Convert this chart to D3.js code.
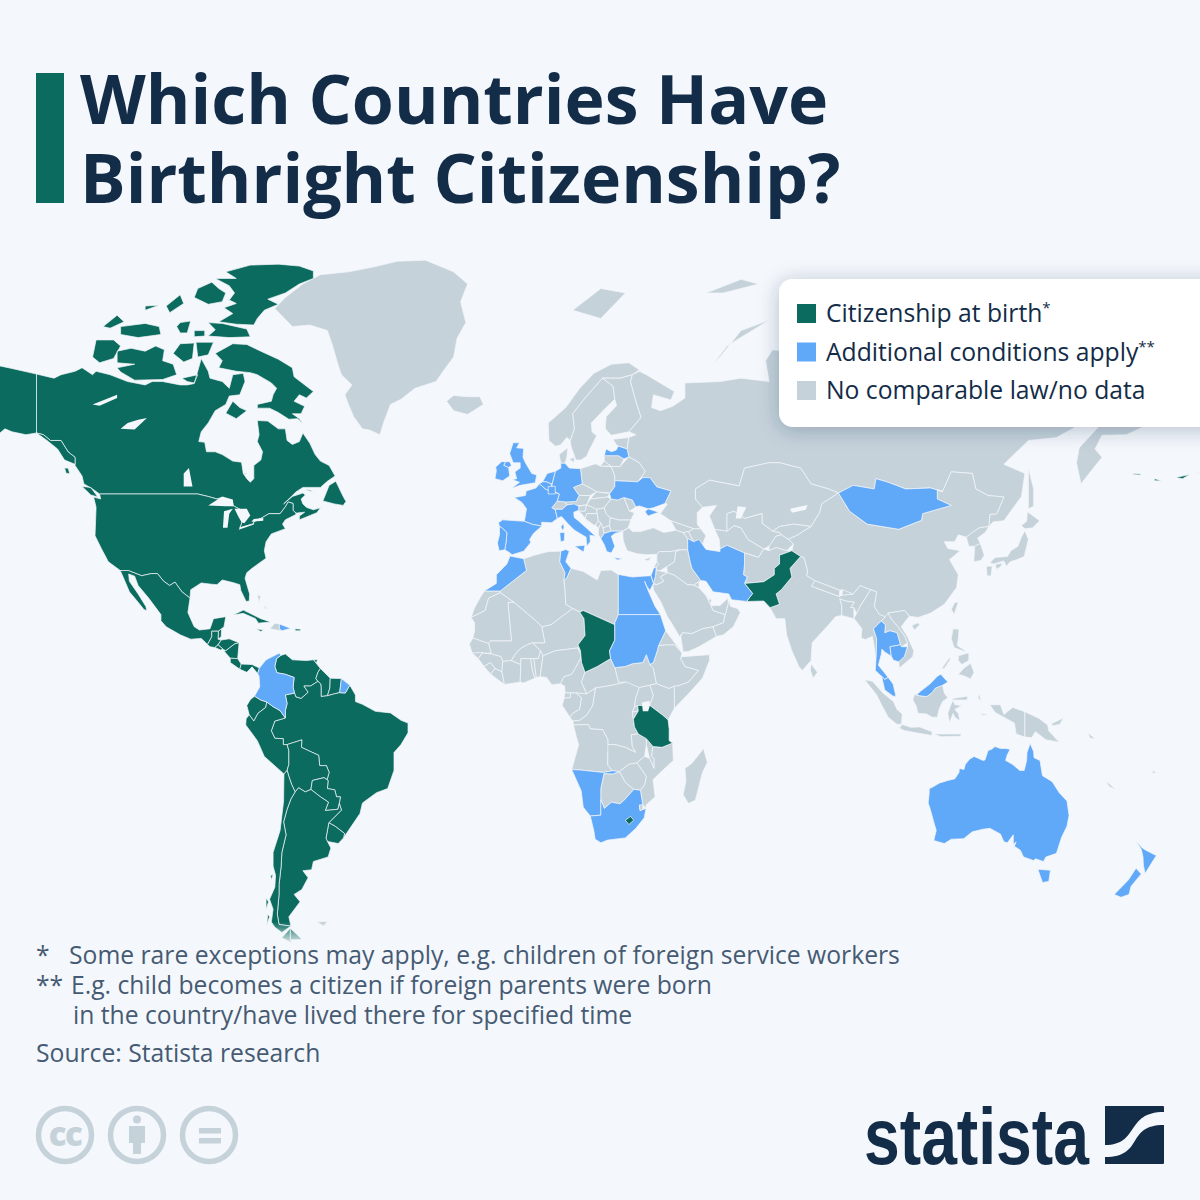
<!DOCTYPE html>
<html>
<head>
<meta charset="utf-8">
<script src="https://cdn.jsdelivr.net/npm/d3@7"></script>
<style>
  html, body { margin: 0; padding: 0; background: #f4f7fb; }
  svg { display: block; font-family: "Open Sans", sans-serif; }
</style>
</head>
<body>
<script>
// Country outlines: each ring is a flat lon,lat list
const citizenshipAtBirth = [
  ["Canada", [
    [-141,69.6,-136,69,-134,69.5,-130,70,-128,70.5,-125,69.5,-124,70,-120,69.5,-115,68.5,-110,68,-108,68.5,-105,68.5,-100,68,-98,68,-96,68.2,-95,70,-94,71.8,-92,70,-91.5,69,-88,68.5,-86,67.5,-85,69.5,-82,69.7,-81.5,68.5,-83,66.5,-86,66.3,-87,65,-90,64,-92,62,-94,60.5,-94.7,58.8,-93,58.7,-92.5,57,-90,57,-88,56.5,-85,55.3,-82.5,55.1,-82,53,-81,52,-80,51.3,-79,52,-79,54.5,-77,55.5,-76.5,57,-78,58.8,-77.5,60,-78,62.4,-75,62.3,-72,61,-70,61,-69.5,59,-68,58.3,-66,58.8,-65,60.3,-63,58.5,-61.5,56.5,-60,55.3,-57.5,54.5,-55.8,52.5,-58,51.5,-60,50.3,-65,50.3,-67,49.4,-69,48,-70.5,47,-68,48.5,-65,49.2,-64.3,48.8,-65.5,48,-65,47,-64,46.3,-62,45.8,-60,46.2,-61,45.2,-64,44.3,-66,43.7,-66,44.5,-64.5,45.3,-66,45.2,-67,45.1,-67.8,45.7,-67.8,47.1,-69.2,47.4,-70,46.4,-71.5,45,-74.7,45,-76.5,44.2,-79,43.3,-79,42.9,-83,42,-82.5,43,-82,45.5,-84.5,46.5,-88.5,48.2,-89.5,48,-92,48.5,-95,49,-123,49,-125,50,-127.5,51,-128,52.5,-130,54.5,-130,56,-132,57,-134,59,-137,59,-139,60,-141,60.3],
    [-123.5,48.4,-125.5,48.8,-128,50.5,-125.5,50.3],
    [-132,54,-131.5,53,-132.5,53,-133,54],
    [-59.3,47.6,-57.5,50.7,-55.6,51.5,-53.5,48.5,-52.7,47.5,-53.5,46.7,-56,47],
    [-62,49.4,-64.5,49.9,-63,49.8],
    [-65,61.8,-66.5,62.7,-69,62.6,-72,63.7,-74.5,64.4,-78,64.4,-78,65,-74,65.5,-73.5,66.5,-72.5,67.5,-74,68.3,-78,69.5,-80,69.8,-84,70,-89,70.5,-88,71.5,-90,72.5,-85,73.8,-81,73.7,-77,72.8,-72,71.7,-68,70.5,-67.5,69.2,-62,67,-64,66,-66,66.5,-67.5,65.5,-64.5,64.7,-65.5,63.5,-68,63.5,-66,62.7],
    [-117,69.9,-113,68.7,-105,68.8,-101,69.5,-102,71,-105,71.5,-104.5,73,-107,73.5,-110,72.8,-114,73.2,-118,72.8,-118,71.2,-113,71,-118,70.5],
    [-125,72,-123,71.2,-119,71.8,-117,73.5,-119,74.3,-124,74.3],
    [-87,63.6,-85,65.5,-83,64.5,-81,64,-84,62.7],
    [-100,73.8,-96,73.9,-96.5,71.8,-99,71.3,-102,72.5],
    [-95.5,74,-90.5,74,-92,72.3,-95,72],
    [-99.5,69,-95,69.5,-96,68.3,-98,68.5],
    [-92,76.5,-88,76.4,-81,75.7,-80,74.7,-86,74.6,-92,74.8,-90,75.6],
    [-96,75.5,-93,75.5,-93,74.8,-96,74.7],
    [-62,82.4,-66,82.9,-72,83.1,-80,83,-87,82.3,-84,81.6,-90,81.6,-86,80.8,-84.5,80,-86,79.2,-84,78.8,-87.5,78.3,-85,77.6,-89,76.6,-84,76.3,-79,76.2,-78,77,-76,78,-72,78.7,-75,79.3,-70,80,-66,81,-62,81.6],
    [-91,81.2,-95,80.5,-96,79.5,-92,78.7,-88,79,-87,80,-89,80.5],
    [-117,76,-110,76.4,-106,76,-105.5,75,-112,74.6,-117,75],
    [-100,76.5,-97,76.7,-98,75.2,-100,75.2,-101,76],
    [-122,76,-118,77.4,-116,76.6,-120,75.8],
    [-104,78.5,-100,79.8,-99,78.8,-103,77.7],
    [-110,78,-106,78.6,-110,78.5],
    [-82,53,-81,53.1,-81.5,52.9]
  ]],
  ["Alaska", [
    [-141,69.6,-148,70.4,-156.5,71.3,-162,70,-166,68.4,-162,67,-164,66.5,-168,65.6,-161,64.5,-165,63,-165,61,-162,58.7,-158,58.5,-162,55.5,-165,54.5,-158,56.5,-154,58,-152,60,-150,61,-148,60.5,-144,60,-141,60.3],
    [-141,60.3,-139,60,-137,59,-134,59,-132,57,-130,56,-130,54.7,-133,55.5,-135,57.5,-138,59],
    [172,53,174,52.9,174,52.7,172,52.8],[178,52,180,51.6,178,51.6],[184,52.2,188,52.8,186,52],[190,53,194,54,191,53.2],
    [-155.5,20,-155,19.7,-155.6,19,-156,19.6]
  ]],
  ["United States", [
    [-123,49,-95,49,-92,48.5,-89.5,48,-88.5,48.2,-84.5,46.5,-82,45.5,-82.5,43,-83,42,-79,42.9,-79,43.3,-76.5,44.2,-74.7,45,-71.5,45,-70,46.4,-69.2,47.4,-67.8,47.1,-67.8,45.7,-67,45.1,-67,44.8,-70,43.7,-70.8,42.8,-70,41.8,-71.5,41.4,-74,40.7,-75.5,39,-76,37,-75.5,35.3,-77.8,34,-79.5,33,-81,32,-81.5,30.7,-80.2,27,-80.3,25.3,-81.2,25.2,-82.7,27.8,-83,29.2,-85,29.7,-88,30.3,-89.5,29.2,-91,29.3,-94,29.6,-97,28,-97.2,26,-99.5,27.5,-101.5,29.8,-103,29,-104.7,30,-106.5,31.8,-108.2,31.8,-111,31.3,-114.8,32.5,-117.1,32.5,-120.5,34.5,-122.5,37.5,-124.3,40.3,-124,46.3,-124.7,48.4,-122.7,48],
    [-67.2,18.5,-65.6,18.4,-65.7,18,-67.2,18]
  ]],
  ["Mexico", [[-117.1,32.5,-114.8,32.5,-111,31.3,-108.2,31.8,-106.5,31.8,-104.7,30,-103,29,-101.5,29.8,-99.5,27.5,-97.2,26,-97.8,22.5,-96,19,-94.5,18.2,-91.5,18.5,-90.5,21,-87,21.5,-87.5,19,-88.2,18.5,-89.1,17.9,-91,17.9,-91,16.5,-92.2,14.6,-94,16.1,-97,15.9,-100,17,-104,19,-105.5,20.5,-105.5,22,-109,26,-112,29,-113,31.2,-114.7,31.7,-114.5,30,-112,27,-109.8,24,-109.5,23,-110.3,23.2,-112,25,-114.5,27.5,-115.5,29.5]]],
  ["Belize", [[-88.2,18.5,-89.1,17.9,-89.2,15.9,-88.3,16.5]]],
  ["Guatemala", [[-92.2,14.6,-91,16.5,-91,17.9,-89.1,17.9,-89.2,15.9,-88.3,15.7,-89.2,14.5,-90.1,13.8,-91.5,14]]],
  ["Honduras", [[-89.2,14.5,-88.3,15.7,-86,16,-83.2,15,-84.5,14.7,-87,13,-87.8,13.4]]],
  ["El Salvador", [[-90.1,13.8,-89.2,14.5,-87.8,13.4,-88.5,13.2]]],
  ["Nicaragua", [[-87,13,-84.5,14.7,-83.2,15,-83.6,11,-85.7,11.1,-87.5,12.9]]],
  ["Costa Rica", [[-85.7,11.1,-83.6,11,-82.6,9.6,-83,8.3,-85.7,10]]],
  ["Panama", [[-83,8.3,-82.6,9.6,-79.5,9.5,-77.4,8.6,-77.9,7.2,-79.5,8.9,-81,7.5]]],
  ["Cuba", [[-84.9,21.9,-82,23.1,-77,21,-74.2,20.2,-77.7,19.9,-78.5,21,-82,22.3]]],
  ["Jamaica", [[-78.3,18.5,-76.3,18.2,-77,17.8]]],
  ["Trinidad", [[-61.7,10.7,-60.9,10.8,-61,10.1,-61.8,10.1]]],
  ["Venezuela", [[-71.3,11.8,-70,12.2,-68,10.7,-64,10.5,-62,10.7,-60,8.5,-60.7,7.5,-61.3,5.9,-60.7,5.2,-62.8,4,-64.7,4,-63.5,2.4,-65.5,0.8,-67,1.2,-67.4,2.2,-67.8,3.7,-67.5,6.2,-70,7,-72.4,7.4,-73,9,-72.5,11]]],
  ["Guyana", [[-60,8.5,-57.2,6,-57.3,3.5,-58,1.5,-59.8,1.3,-59.8,3.5,-59.9,4.5,-60.7,5.2,-61.3,5.9,-60.7,7.5]]],
  ["Suriname", [[-57.2,6,-54,5.9,-54.5,2.3,-56,2,-58,1.5,-57.3,3.5]]],
  ["Brazil", [[-51.6,4.2,-50,1.7,-50,0,-48,-0.7,-44.3,-2.5,-40,-2.9,-37,-4.8,-35,-5.5,-35,-8,-37,-11,-39,-13,-39,-17.5,-40.8,-22,-44,-23,-48,-25.5,-48.7,-28,-52,-32,-53.4,-33.7,-53.1,-32.7,-55.8,-31,-57.6,-30.2,-54,-27.2,-54.6,-25.6,-54.3,-24,-55.4,-24,-55.9,-22.3,-58,-22,-57.8,-20,-58.1,-19.8,-57.5,-18,-58.3,-16.3,-60.2,-16.3,-60.5,-13.7,-63,-12.7,-65.4,-11.7,-65.3,-9.8,-69.5,-11,-70.6,-11,-70.6,-9.5,-73,-9.4,-74,-7.5,-73,-5,-70,-4.2,-70,-2.3,-69.5,-0.5,-70,1.7,-67.4,2.2,-67,1.2,-65.5,0.8,-63.5,2.4,-64.7,4,-62.8,4,-60.7,5.2,-59.9,4.5,-59.8,3.5,-59.8,1.3,-58,1.5,-56,2,-54.5,2.3,-52.9,2.2]]],
  ["Ecuador", [[-78.8,1.4,-77,0.4,-75.3,-0.1,-75.6,-1.5,-77.8,-3,-79,-5,-80.3,-3.4,-81,-1,-80,0.5]]],
  ["Peru", [[-80.3,-3.4,-79,-5,-77.8,-3,-75.6,-1.5,-75.3,-0.1,-73.5,-1.3,-71.5,-2.3,-70,-4.2,-73,-5,-74,-7.5,-73,-9.4,-70.6,-9.5,-70.6,-11,-69.5,-11,-69,-12.5,-69,-16,-69.5,-17.5,-70.4,-18.4,-76,-14,-78,-10,-81.3,-6,-81.2,-4.4]]],
  ["Bolivia", [[-69.5,-11,-65.3,-9.8,-65.4,-11.7,-63,-12.7,-60.5,-13.7,-60.2,-16.3,-58.3,-16.3,-57.5,-18,-58.1,-19.8,-59,-19.3,-62.3,-20,-62.7,-22.2,-64.3,-22.8,-66.2,-21.8,-67.2,-22.8,-68.2,-21,-69,-19,-69.5,-17.5,-69,-16,-69,-12.5]]],
  ["Paraguay", [[-58.1,-19.8,-57.8,-20,-58,-22,-55.9,-22.3,-55.4,-24,-54.3,-24,-54.6,-25.6,-55,-27,-58.6,-27.3,-57.7,-25.3,-60,-24,-62.7,-22.2,-62.3,-20,-59,-19.3]]],
  ["Uruguay", [[-58.4,-33.8,-57.6,-30.2,-55.8,-31,-53.1,-32.7,-53.4,-33.7,-54.9,-35,-58,-34.5]]],
  ["Argentina", [[-66.2,-21.8,-64.3,-22.8,-62.7,-22.2,-60,-24,-57.7,-25.3,-58.6,-27.3,-55,-27,-54.6,-25.6,-54,-27.2,-57.6,-30.2,-58.4,-33.8,-58,-34.5,-57,-36,-57.8,-38,-62,-39,-62.5,-40.8,-65,-41,-63.5,-42.5,-65.3,-45,-67.5,-46,-65.8,-47.5,-69,-50.5,-68.4,-52.3,-71.8,-52,-72.3,-50,-71.8,-46,-71.8,-44,-71.2,-40,-71,-37,-69.8,-33,-70.5,-30,-69.5,-27,-68.4,-24.5,-67.2,-22.8],[-68.6,-52.7,-65.2,-54.8,-68.6,-54.9]]],
  ["Chile", [[-70.4,-18.4,-69.5,-17.5,-69,-19,-68.2,-21,-67.2,-22.8,-68.4,-24.5,-69.5,-27,-70.5,-30,-69.8,-33,-71,-37,-71.2,-40,-71.8,-44,-71.8,-46,-72.3,-50,-71.8,-52,-68.4,-52.3,-71,-53.5,-73,-52.5,-74,-51.5,-73.5,-49,-74.5,-47,-73,-44.5,-72.8,-42,-73.5,-40,-73.5,-37,-71.5,-32,-70.5,-25],[-74,-43,-73.5,-41.9,-74.2,-42],[-75.5,-49,-74.8,-47.5,-75.5,-46.8],[-75.3,-52,-74.5,-50.5,-75,-50],[-68.6,-52.7,-68.6,-54.9,-68,-55.5,-71,-54.5]]],
  ["Pakistan", [[61,29.5,66.5,29.9,69.5,31.5,69.5,33,71,34,71,36,74.5,37,77,35.7,74,33,74.5,31,71.5,28,70,27,71,24.5,68.3,23.7,66.5,25.3,61.6,25.2,63.3,27.1]]],
  ["Chad", [[14,22.6,15,23,24,19.5,24,15.7,22.5,13,22.8,11,19,9,15.5,7.5,14.5,10,14.2,13,13.5,14.5,15.5,16.8,15.2,21]]],
  ["Tanzania", [[30.5,-1,34,-1,37.7,-3.5,39.2,-4.7,39.5,-7,39.5,-10,40.5,-10.6,37.5,-11.7,34.9,-11.5,33,-9.5,30.7,-8.3,29.6,-6.5,29.3,-4.5,30.7,-2.4]]],
  ["Lesotho", [[27,-29.6,28.5,-28.7,29.4,-29.6,28,-30.6]]]
];

const additionalConditions = [
  ["Colombia", [[-77.4,8.6,-75.6,10.6,-74.8,11,-71.7,12.4,-71.3,11.8,-72.5,11,-73,9,-72.4,7.4,-70,7,-67.5,6.2,-67.8,3.7,-67.4,2.2,-70,1.7,-69.5,-0.5,-70,-2.3,-70,-4.2,-71.5,-2.3,-73.5,-1.3,-75.3,-0.1,-77,0.4,-78.8,1.4,-77.3,3.8,-77.5,6.5,-77.9,7.2]]],
  ["Dominican Republic", [[-71.7,19.7,-68.4,18.6,-71,18,-71.7,18.5]]],
  ["France", [[-1.8,43.4,-1.2,46,-2.5,47.3,-4.7,48.3,-1.5,48.7,-1.3,49.6,1.5,50.2,2.5,51,4.2,50,5.8,49.5,8.2,49,7.6,47.6,6,46.2,7,45.8,7.6,44,6,43.1,3.1,43.2,3.2,42.4,0.7,42.7],[9.4,43,9.5,42,9.2,41.4,8.6,42.2],[-54,5.9,-51.6,4.2,-52.9,2.2,-54.5,2.3]]],
  ["Spain", [[-1.8,43.4,0.7,42.7,3.2,42.4,0.8,40.8,-0.3,39.5,0,38.8,-2,36.9,-5.3,36.1,-6.3,36.7,-7.4,37.2,-7,39,-6.8,41,-8.2,42,-8.9,42.3,-9.2,43.1,-8,43.7]]],
  ["Portugal", [[-7.4,37.2,-9,37,-9.5,38.7,-8.9,40.5,-8.9,42.3,-8.2,42,-6.8,41,-7,39]]],
  ["United Kingdom", [[-5.5,50.1,-3,50.7,1.3,51.2,1.7,52.7,0.3,53,-1.5,55,-2.2,56,-2,57.6,-4,57.7,-3.2,58.6,-5,58.6,-6,56.7,-5,55,-3,55,-3,54,-4.5,53.3,-4,52,-5.2,51.8,-3.2,51.3],[-6,55.2,-5.5,54.5,-6.3,54.1,-7.7,54.5,-7.2,55.2]]],
  ["Ireland", [[-6.3,54.1,-6,52.5,-8,51.6,-10.2,52,-9.8,53.5,-10,54.2,-8.3,55.2,-7.2,55.2,-7.7,54.5]]],
  ["Germany", [[6.1,51,7,53.4,8.6,54,8.6,54.9,9.8,54.9,11,54,14.2,53.9,14.7,51,12.2,50.3,13.8,48.7,13,47.5,10,47.4,7.6,47.6,8.2,49,6.4,49.6,6.1,50.2]]],
  ["Netherlands", [[3.4,51.4,4.7,53,7,53.4,6.1,51,5.8,51,4.4,51.4]]],
  ["Belgium", [[2.5,51,3.4,51.4,4.4,51.4,5.8,51,6.1,50.2,5.8,49.5,4.2,50]]],
  ["Luxembourg", [[5,49,7,49,7,50.5,5,50.5]]],
  ["Italy", [[7,45.9,9,45.9,10.4,46.8,12.4,47,13.7,46.5,13.7,45.7,12.3,45.3,12.4,44.2,13.6,43.5,16,41.9,18.5,40.2,16.9,40.4,17,39,16,38,15.8,40,12.5,41.5,10.5,43,8.8,44.4,7.6,44],[12.5,38,15.5,38.2,15.1,36.7],[8.3,41,9.7,41,9.6,39.2,8.5,39]]],
  ["Greece", [[20,39.7,21,40.8,23,41.3,26.3,41.3,24,40.8,23,40.2,24,38,23,36.5,21.7,36.8,21,38.3],[23.6,35.5,26.3,35.2,24.8,34.9]]],
  ["Latvia", [[21,56.3,21.5,57.5,23,57,24.4,57.3,25,58,27.5,57.5,28,56.1,26.6,55.7,25,56.3]]],
  ["Ukraine", [[24,50.5,24,51.6,30.5,51.4,32,52.2,34,52.2,36,50.4,40,49.6,38.3,47.1,35,46.2,33.5,46,31,46.6,30,46.4,29,47.8,26.6,48.3,24.8,47.8,22.9,48,22.5,49.1,22.7,49.2],[33.5,46,36.5,45.3,33.5,44.5,32.6,45.4]]],
  ["Iran", [[44.8,39.7,46.5,39,48,39.5,49,38.4,50,37.3,54,36.8,54,37.4,56,38.2,61,36.5,61,34,60.7,31.5,61.8,31,61,29.5,63.3,27.1,61.6,25.2,57.3,25.6,56.5,27,52,27.5,50,30,48.5,30.2,46,33,45.5,34.5,44.8,37.2]]],
  ["Israel", [[35.1,33.1,35.8,33.2,35.6,31.2,35,29.5,34.3,31.3]]],
  ["Morocco", [[-5.9,35.8,-2,35.2,-1.2,32.5,-3.6,31,-8.7,27.7,-13.2,27.7,-9.8,29.5,-9.8,31.5,-6.8,34]]],
  ["Tunisia", [[8.6,36.9,10,37.3,11,36.9,10,34.5,11.5,33,10.3,30.8,9.5,30.2,9.8,32,8.3,34.5]]],
  ["Egypt", [[25,31.6,29,31,32,31.2,34.3,31.3,35,29.5,34,27.8,33,29,32.5,30,33.5,27.8,35.5,24,37,22,25,22]]],
  ["Sudan", [[25,22,37,22,38.5,18,36.5,14.3,36,12.7,35,10,34,9.5,33,12,32,10,29,9.7,27,9,24,8.7,22.8,11,22.5,13,24,15.7,24,19.5,24,20]]],
  ["Namibia", [[11.7,-17.3,14.1,-17.4,20.7,-18,23.4,-17.6,25.3,-17.8,23.4,-18.4,20.9,-18.3,20,-22,20,-24.7,20,-28.4,17,-28.6,15,-26.5,14.4,-22.5]]],
  ["South Africa", [[17,-28.6,20,-28.4,20,-24.7,21,-26.8,23,-25.3,25.5,-25.7,26.8,-24.7,29.4,-22.2,31.3,-22.4,32,-26,31,-26,31.2,-27.3,32.9,-26.8,32.4,-29,30,-31.5,27,-33.7,22,-34.2,20,-34.8,18.4,-34,18,-32]]],
  ["Mongolia", [[87.8,49.2,92,50.7,98,50,98.5,52,102,51.3,107,50,114,50.2,117.5,49.5,116,49.8,116,48,120,46.7,111.8,45,111.5,43.6,105,41.7,96,42.8,91,45.5]]],
  ["Thailand", [[100,20.4,101.2,19.5,101,17.5,102.5,18,104.5,17.5,105.5,14.5,102.5,14,102.9,11.6,101,12.7,100.2,13.4,100,12,99.2,9.3,100.4,8,102,6.2,101,5.7,100.1,6.5,98.3,8,98.6,12,98.7,16,97.8,18.5]]],
  ["Cambodia", [[102.5,14,105.5,14.5,105.8,14,107.5,14,106.6,11.5,105,10.2,103.5,10.6,102.9,11.6]]],
  ["Malaysia", [[100.1,6.5,101,5.7,102,6.2,103.4,4.5,104.2,1.4,103.4,1.4,101,3,100.3,5.8],[109.6,2,111,1.5,113,1.3,114.5,2.3,115.5,3.5,117.5,4.2,119,5,117,7,116,6.5,113.9,4.5,111.3,2.7,110,1.7]]],
  ["Australia", [[113.7,-22,114.3,-21.8,116.7,-20.6,119,-20,121,-19.6,122.2,-18,122.3,-17,123.6,-17.3,124,-16,125.2,-14.7,126.5,-14,127.8,-14.5,129,-15,129.6,-14.9,130.5,-12.5,131.5,-12.2,132.5,-11.5,134,-12,135.5,-12,136.8,-12.2,136,-13.5,135.5,-15,137.5,-16,139.5,-17.5,140.8,-17.5,141.5,-15,141.6,-13,142.5,-10.7,143.5,-12.8,143.6,-14.3,145.3,-15,146,-18.8,148.8,-20.3,150.8,-23,153,-25,153.6,-28.5,153,-31,151.5,-33.5,150,-37.2,147,-38,146.3,-39,144,-38.4,143.5,-38.8,140.6,-38,139.7,-36.5,138,-35.6,138.5,-34.6,137.7,-35.2,137.7,-33,136,-34.8,135,-34.6,134,-32.8,131,-31.5,129,-31.7,126,-32.3,123.5,-33.9,120,-34,118,-35,115,-34.3,115.7,-32,115,-30,114,-27,113.4,-25.5,113.7,-23],[144.7,-40.7,148.3,-40.9,147.8,-43.3,146,-43.5]]],
  ["New Zealand", [[172.7,-40.5,174.2,-41.7,171.3,-44.3,170.7,-46,168.4,-46.6,166.5,-46,170.5,-43],[172.7,-34.4,174.5,-36,175.5,-36.5,178.5,-37.7,177,-39.5,175.3,-41.6,174.8,-39.8,174.7,-38,174.2,-36.3]]]
];

const noComparableLaw = [
  ["Greenland", [[-73,78.2,-70,79.5,-65,81,-60,82,-52,82.3,-45,82.8,-38,83.4,-30,83.5,-22,82.3,-18,81,-20,79,-18.5,76.5,-21,74.5,-22,72,-25,70,-27,68.5,-33,67.5,-37,65.8,-40,65,-42,62,-43,60,-46,60.8,-48,61,-50.5,63,-52,65,-53,66.5,-51,68,-54,69.5,-55,71,-56.5,73.5,-58,75.5,-63,76.2,-68,76]]],
  ["Iceland", [[-22,64,-24,65.5,-22,66.4,-18,66.2,-14.5,66.2,-13.5,65,-18,63.4]]],
  ["Falkland Islands", [[-61,-51.5,-58,-51.4,-59,-52.3]]],
  ["Haiti", [[-74.4,18.5,-73,19.9,-71.7,19.7,-71.7,18.5,-71,18,-72.5,18.2]]],
  ["Bahamas", [[-78,26.8,-77,26.5,-77.5,25],[-76,24.5,-75.3,23.5,-75.8,23.3]]],
  ["Norway", [[7,58,5.2,59,5,62,10,64.5,14,67.5,18,69.7,23,71,28,71.2,31,70.2,29,69.5,25.5,69,20.5,69,15.5,66,12,63.5,12.5,61,11.3,59,10.3,59.5,8.5,58.2],[12,78,20,80.5,27,80,20,77]]],
  ["Sweden", [[11.3,59,12.5,61,12,63.5,15.5,66,20.5,69,23.5,67.8,24,65.8,21.5,64.5,17.3,62,17.5,60.5,18.8,59.8,16.5,57,16,56.2,14.3,55.5,12.9,55.5,11.5,58]]],
  ["Finland", [[23.5,67.8,20.5,69,25.5,69,29,69.5,28.5,68.5,30,65.5,31.5,62.9,28,60.5,23,59.9,21.3,61,21.5,63,24.5,64.8,24,65.8]]],
  ["Denmark", [[8.6,54.9,8.1,56.5,10.6,57.7,10.3,56,9.8,54.9],[11,55.7,12.5,56,12.3,55]]],
  ["Switzerland", [[6,46.2,7.6,47.6,9.6,47.5,10.4,46.8,9,45.9,7,45.9]]],
  ["Austria", [[9.6,47.5,13,47.5,13.8,48.7,17,48.7,16,46.8,13,46.6,10.4,46.8]]],
  ["Poland", [[14.2,53.9,18.5,54.8,19.8,54.4,23,54.3,24,52.5,24,50.5,22.7,49.2,19,49.4,14.7,51]]],
  ["Czechia", [[12.2,50.3,14.7,51,18.8,49.5,17,48.7,13.8,48.7]]],
  ["Slovakia", [[18.8,49.5,19,49.4,22.5,49.1,22,48.4,17,48]]],
  ["Hungary", [[16,46.8,17,48,22,48.4,22.9,48,21,46.2,18.8,45.9]]],
  ["Slovenia", [[13.7,46.5,16,46.8,15.5,45.5,13.7,45.5]]],
  ["Croatia", [[13.7,45.5,15.5,45.5,16,46.8,18.8,45.9,19,45,16,45,15.5,44,18,42.6,16,43.5,14.5,45]]],
  ["Bosnia", [[16,45,19,45,19.3,43.5,18.5,42.6,18,42.6,15.5,44]]],
  ["Serbia", [[19,45,18.8,45.9,21,46.2,21.5,45,22.7,44.2,22.5,42.5,20.6,42,20,43,19.3,43.5]]],
  ["Montenegro", [[18.5,42.6,19.3,43.5,20,43,19.4,41.9]]],
  ["Albania", [[19.4,41.9,20,43,20.6,42,21,40.8,20,39.7,19.3,40.5]]],
  ["North Macedonia", [[20.6,42,22.5,42.5,23,41.3,21,40.8]]],
  ["Bulgaria", [[22.7,44.2,25,43.7,28.6,43.7,27.8,42,26.3,41.3,23,41.3,22.5,42.5]]],
  ["Romania", [[21,46.2,22.9,48,24.8,47.8,26.6,48.3,28.2,45.5,29.6,45.2,28.6,43.7,25,43.7,22.7,44.2,21.5,45]]],
  ["Moldova", [[26.6,48.3,29,47.8,30,46.4,28.2,45.5]]],
  ["Belarus", [[24,52.5,23,54.3,25.5,54.3,28,56.1,31,55,32.7,53.4,31.5,52.2,30.5,51.4,24,51.6]]],
  ["Lithuania", [[21,55.3,21,56.3,25,56.3,26.6,55.7,25.5,54.3,23,54.3,22.8,54.4]]],
  ["Estonia", [[23.5,59.2,28,59.5,27.5,57.5,25,58,24.4,58.3]]],
  ["Turkey", [[26.3,40,26.3,41.3,28,42,29,41.2,31.3,41.2,35,42,38,41,41.5,41.5,43.5,41,44.8,39.7,44.8,37.2,42.3,37.2,40,36.8,36.7,36.8,36,36.2,33,36.1,30.5,36.3,27.5,37,26.5,39]]],
  ["Cyprus", [[32.3,35,34.5,35.6,33.5,34.7]]],
  ["Russia", [
    [28,59.5,30,60,28,60.5,31.5,62.9,30,65.5,28.5,68.5,29,69.5,31,70,33,69.5,41,67,40,65.7,35,66.5,34.5,64.5,37,64,40.5,64.7,44,66,44,68.3,54,68.5,60,69,68,68.5,67,71.5,69,73,72.5,72.8,73,69,75,72,80,73,87,75,100,76.5,105,77.7,113,74,125,73.5,130,71,140,72.5,150,71,160,70,170,69.8,178,69,190,66,186,64.5,179,62.5,170,60,163,59.9,161,57.5,163,56,157,51,155.7,55,156.5,57.7,163,62,156,61.5,150,59.5,142,59,135,54.7,141,53,140,48.5,135,43.5,132,43.3,130.7,42.3,131,44.8,133,45,135,48.4,130.5,48.7,127,50,126,53,120,53.3,117.5,49.5,114,50.2,107,50,102,51.3,98.5,52,98,50,92,50.7,87.8,49.2,85,50,80,51,77,54,71,55,68,55,61,54,59.5,50.6,51,51.7,47,50,47,48,49,46.3,47.5,45.2,47.5,42.8,48.5,41.8,46.5,41.8,40,43.5,37,45,39,47,38.3,47.1,40,49.6,36,50.4,34,52.2,32,52.2,31.5,52.2,32.7,53.4,31,55,28,56.1,27.5,57.5],
    [19.8,54.4,21,55.3,22.8,54.4],
    [52,71,56,73.5,68,76.8,60,75.5,54,72],
    [142,54,143.5,50,143.5,46.5,142,46,142,50],
    [50,80,60,81.5,65,81,55,80]
  ]],
  ["Georgia", [[40,43.5,46.5,41.8,45,41.2,43.5,41,41.5,41.5]]],
  ["Armenia", [[43.5,41,45,41.2,46.5,39,44.8,39.7]]],
  ["Azerbaijan", [[45,41.2,46.5,41.8,48.5,41.8,50,40.3,49,38.4,46.5,39]]],
  ["Turkmenistan", [[52.5,41.7,56,41.3,58,42.5,60,42,62,39.5,66.5,37.4,65,35.5,61,36.5,56,38.2,54,37.4,53.8,39.5]]],
  ["Kazakhstan", [[47,48,47,50,51,51.7,59.5,50.6,61,54,68,55,71,55,77,54,80,51,85,50,87.8,49.2,83,47,82.5,45.3,80,42.3,75,42.8,71,42.3,69,41.3,66,43,66,45,61,44,58,45.5,56,45,56,41.3,52.5,41.7,51,44.5,53,46.7,49,46.3]]],
  ["Uzbekistan", [[56,41.3,56,45,58,45.5,61,44,66,45,66,43,69,41.3,71,41,71.5,40.5,70,40.2,68,38,66.5,37.4,62,39.5,60,42,58,42.5]]],
  ["Kyrgyzstan", [[71,42.3,75,42.8,80,42.3,76,40.4,73.5,39.5,71.5,40.5,71,41,69,41.3]]],
  ["Tajikistan", [[68,38,70,40.2,71.5,40.5,73.5,39.5,75,38.5,73,37,70,37.7,68,37]]],
  ["Afghanistan", [[61,36.5,65,35.5,66.5,37.4,68,37,70,37.7,73,37,74.5,37,71,36,71,34,69.5,33,69.5,31.5,66.5,29.9,61,29.5,61.8,31,60.7,31.5,61,34]]],
  ["India", [[78,35.5,77,35.7,74,33,74.5,31,71.5,28,70,27,71,24.5,68.3,23.7,70,21,72.5,21,73,17,74.5,13,76.5,9,77.5,8,80,10.5,80.3,15,85,19.5,87,21.5,88.7,21.8,88.8,24,88.2,25.8,89.8,25.3,92.3,25,91.3,23.7,92.2,23.7,93,22.3,94,24,97,28,94,29,92,27,88.8,26.7,88,26.4,80.2,28.8,81,30.2,78.8,31.3,79,32.5]]],
  ["Nepal", [[80.2,28.8,88,26.4,88.2,27.9,81,30.2]]],
  ["Bhutan", [[88.8,26.7,92,27,91.5,28,89,28]]],
  ["Bangladesh", [[88.7,21.8,92.2,21,92.2,23.7,91.3,23.7,92.3,25,89.8,25.3,88.2,25.8,88.8,24]]],
  ["Sri Lanka", [[80,9.7,81.8,7.5,80.6,6,79.8,8]]],
  ["China", [[74.5,37,75,38.5,73.5,39.5,76,40.4,80,42.3,82.5,45.3,83,47,87.8,49.2,91,45.5,96,42.8,105,41.7,111.5,43.6,111.8,45,120,46.7,116,48,116,49.8,117.5,49.5,120,53.3,126,53,127,50,130.5,48.7,135,48.4,133,45,131,44.8,130.7,42.3,128,42,126,41,124.3,40,122,40.5,121,39,118,39,119,37.5,122.5,37,119.5,35,122,31.5,121.5,28.5,118,24.5,114,22.3,110.5,21.3,108,21.6,106.7,23,102,22.4,101.7,21.2,99.5,22,98,24,98.7,27.5,97,28,94,29,92,27,89,28,88.2,27.9,81,30.2,78.8,31.3,79,32.5,78,35.5,77,35.7],[108.7,19.3,110.5,20,111,19.5,109.5,18.2]]],
  ["Taiwan", [[121,25,122,25,120.8,22,120,23.3]]],
  ["North Korea", [[124.3,40,126,41,128,42,130.7,42.3,129.7,41,127.5,39.8,128.3,38.6,126.7,38,125,38]]],
  ["South Korea", [[126.7,38,128.3,38.6,129.4,36,128.5,34.8,126.4,34.5,126.6,37]]],
  ["Japan", [[141,41.4,142,39.5,140.8,35.7,138.8,35,136.8,34.5,135.7,33.5,135,34.7,132,34,131,34.3,132.5,35.5,136,35.7,137,37,139,38,140,40],[130,33.5,131.7,33.5,131.3,31.2,130.2,31.3],[132.5,33.9,134.6,34.2,134,33.3,132.9,32.8],[141.7,45.4,145.2,43.5,143.2,42,141,41.8,140,42.5,141.5,43.4]]],
  ["Myanmar", [[93,22.3,94,24,97,28,98.7,27.5,98,24,99.5,22,101.2,21.5,100,20.4,97.8,18.5,98.7,16,98.6,12,99.2,10,98.6,10,98,14,97.5,16.6,95.5,15.8,94.3,16.2,94.5,18.5,92.5,20.8,92.2,21]]],
  ["Laos", [[100,20.4,101.2,21.5,102,22.4,103,20.8,104.8,19,106.7,16.7,107.5,15,105.8,14,105.5,14.5,104.5,17.5,102.5,18,101,17.5,101.2,19.5]]],
  ["Vietnam", [[102,22.4,106.7,23,108,21.6,105.7,19,107.5,16.5,109.3,13,109,11.5,105.2,8.6,105,10.2,106.6,11.5,107.5,14,107.5,15,106.7,16.7,104.8,19,103,20.8]]],
  ["Indonesia", [
    [109,0.5,109.6,2,110,1.7,111,1.5,113,1.3,114.5,2.3,115.5,3.5,117.5,4.2,118,2.2,119,1,117.5,0,116.5,-2,116,-4,114.5,-4,113,-3.2,110.5,-3,110,-1.2],
    [95.3,5.6,97.5,5.2,100.5,2.2,103.5,0,104.5,-2,106,-3.2,105.8,-5.8,104.5,-5.8,102,-4,100.5,-1.5,98.7,1.7],
    [105.2,-6.8,106,-5.9,108.5,-6.6,111,-6.5,114.5,-7.7,114.5,-8.7,110,-8,106.5,-7.4],
    [115,-8.3,119,-8.3,123,-8.3,122.5,-8.9,117,-9],
    [123.6,-10.3,127,-8.4,125,-9.5],
    [119.5,-5.5,120.5,-3,121,-4,122.5,-5,122,-3,121,-2,123,-1,121,-0.8,120.3,0.8,124.7,1.4,124.5,0.4,120.5,0.4,119.8,-1,119,-3],
    [128,2,128.5,0,127.6,1],
    [128,-3,130.8,-3.3,129,-3.5],
    [141,-2.6,137.5,-1.5,135,-3.3,134,-0.8,131,-0.8,132.5,-2.8,134,-3.5,136,-4.5,138,-5.5,138.5,-8.3,141,-9.1]
  ]],
  ["Papua New Guinea", [[141,-2.6,145,-4.3,147.5,-6,147.8,-7.5,150.8,-10.4,147,-9.8,144,-7.7,143,-9.2,141,-9.1],[148.5,-5.7,152,-4.2,151,-5.8,149,-6.2]]],
  ["Pacific islands", [[159,-8,161,-9.5,159.5,-9.3],[164,-20,167,-22.3,165,-21.5],[177.5,-17.5,178.5,-18,177.5,-18.3]]],
  ["Philippines", [[120.5,18.5,122.2,18.4,122,16,121.7,14.3,124,13,123.8,12.8,120.8,13.8,120,16],[122,7,123.5,8.5,125.5,9.8,126.5,7.5,125.5,5.8,124,6.5],[122,11.7,125,12.5,125,10.5,123,9.5,122,10.5],[117.2,8.4,119.5,11.3,119.7,10.8,118,8.5]]],
  ["Iraq", [[44.8,37.2,45.5,34.5,46,33,48.5,30.2,48,29.9,46.5,29.1,44.7,29.2,41,31.4,39,32,38.8,33.4,41,34.5,41.3,36.7,42.3,37.2]]],
  ["Syria", [[36,36.2,36.7,36.8,40,36.8,42.3,37.2,41.3,36.7,41,34.5,38.8,33.4,36.8,32.4,35.8,32.7,36,34.6]]],
  ["Lebanon", [[36,34.6,36.5,34,35.8,33.2,35.1,33.1]]],
  ["Jordan", [[35.8,32.7,36.8,32.4,39,32,37,31,38,30,36,29.2,35,29.5,35.6,31.2]]],
  ["Saudi Arabia", [[34.9,29.4,36,29.2,38,30,37,31,39,32,41,31.4,44.7,29.2,46.5,29.1,48,28.5,50,26.6,51.3,24.5,52,23,55.5,22,55,20,52,19,49,18.5,46,17.3,43.3,17.5,42.5,16.5,40.5,19.5,39,21.5,37.2,25,35,28]]],
  ["Yemen", [[42.8,16.5,43.3,17.5,46,17.3,49,18.5,52,19,53,16.6,48,14,45,12.8,43.5,12.7]]],
  ["Oman", [[52,19,55,20,55.5,22,56.3,24.5,56.5,25.9,57,24,59,23.5,59.8,22.5,57.8,19,55,17,53,16.6]]],
  ["UAE", [[51.5,24.2,52,23,55.5,22,56.3,24.5,56.3,26,54,24.2]]],
  ["Qatar", [[51,26,51.6,25.5,51.2,24.6,50.8,25]]],
  ["Kuwait", [[48,29.9,46.5,29.1,48,28.5]]],
  ["Western Sahara", [[-13.2,27.7,-8.7,27.7,-8.7,27.3,-12,26,-13,23,-17,21.3,-16,23.7,-14.5,26]]],
  ["Algeria", [[-2,35.2,1,36,5,36.8,8.6,36.9,8.3,34.5,9.8,32,9.5,30.2,9.8,28,10,24.5,12,23.5,5.8,19.5,3.2,19,1.2,20.7,-4.8,25,-8.7,27.3,-8.7,27.7,-3.6,31,-1.2,32.5]]],
  ["Libya", [[11.5,33,15,32.3,19,30.3,20,32.5,23,32.6,25,31.6,25,22,24,20,24,19.5,15,23,14,22.6,12,23.5,10,24.5,9.8,28,9.5,30.2,10.3,30.8]]],
  ["South Sudan", [[24,8.7,27,9,29,9.7,32,10,33,12,34,9.5,35,8.5,35.9,4.6,34,4.2,31,3.6,28,4.5,25,5]]],
  ["Niger", [[3.5,11.7,2.8,13,0.5,15,4,15,3.2,19,5.8,19.5,12,23.5,14,22.6,15.2,21,15.5,16.8,13.5,14.5,14.2,13,13.5,13.7,10,13.3,7,13]]],
  ["Mali", [[-12,14.8,-11.5,15.5,-5.5,15.5,-6.5,25,-4.8,25,1.2,20.7,3.2,19,4,15,0.5,15,-1,14.5,-3,13.5,-4.5,12,-5.5,10.5,-8,10.3,-8.5,11.5,-11.3,12.2]]],
  ["Mauritania", [[-17,21.3,-13,23,-12,26,-8.7,27.3,-4.8,25,-6.5,25,-5.5,15.5,-11.5,15.5,-12,14.8,-16.5,16.2,-16,18,-16,20]]],
  ["Senegal", [[-16.5,16.2,-12,14.8,-11.3,12.4,-16.7,12.4,-17.5,14.7]]],
  ["Guinea-Bissau", [[-16.7,12.4,-13.7,12.6,-15,11]]],
  ["Guinea", [[-13.7,12.4,-11.3,12.2,-8.5,11.5,-8,10.3,-8.2,7.6,-10.2,8.5,-11.5,10,-13.3,9,-15,11]]],
  ["Sierra Leone", [[-13.3,9,-11.5,10,-10.2,8.5,-11.4,7]]],
  ["Liberia", [[-11.4,7,-10.2,8.5,-8.2,7.6,-7.5,4.4]]],
  ["Ivory Coast", [[-8.2,7.6,-8,10.3,-5.5,10.5,-2.8,9.5,-3,5,-7.5,4.4]]],
  ["Burkina Faso", [[-5.5,10.5,-4.5,12,-3,13.5,-1,14.5,0.5,15,2.8,13,2.2,11,-2.8,11,-2.8,9.5]]],
  ["Ghana", [[-2.8,11,0,11,0.5,8,1.2,6,-2,4.8,-3,5,-2.8,9.5]]],
  ["Togo", [[0,11,0.9,11,1.6,6.2,1.2,6,0.5,8]]],
  ["Benin", [[0.9,11,2.2,11,2.8,13,3.5,11.7,2.7,6.4,1.6,6.2]]],
  ["Nigeria", [[2.7,6.4,3.5,11.7,7,13,10,13.3,13.5,13.7,14.5,11.5,13,9,11.7,7,9.5,6.4,8.5,4.6,6,4.3,4.5,6.2]]],
  ["Cameroon", [[8.5,4.6,9.5,6.4,11.7,7,13,9,14.5,11.5,13.5,13.7,14.2,13,14.5,10,15.5,7.5,14.5,5,16,2,13,2.2,9.8,2.3,9.7,4]]],
  ["Central African Republic", [[15.5,7.5,19,9,22.8,11,24,8.7,25,5,27.4,5,22,4,18.5,3.5,16,2,14.5,5]]],
  ["Gabon", [[9.8,1,11.3,1,11.3,2.2,13,2.2,14.5,1,14,-2,12,-3,11.2,-4,9,-1,9.4,0.5]]],
  ["Equatorial Guinea", [[9.8,2.3,11.3,2.2,11.3,1,9.5,1]]],
  ["Congo", [[13,2.2,16,2,18.5,3.5,17.7,-1,16,-3.5,14,-4.8,12,-5,11.2,-4,12,-3,14,-2,14.5,1]]],
  ["DR Congo", [[12.2,-6,12,-5,14,-4.8,16,-3.5,17.7,-1,18.5,3.5,22,4,27.4,5,31,3.6,30,1,29.6,-1.4,29,-2.7,29.3,-4.5,29.6,-6.5,30.7,-8.3,28.7,-8.5,29,-11.5,30,-13,27,-11.7,24,-11,22,-11,22,-9.7,20.5,-7.2,17,-7,16.5,-5.9]]],
  ["Angola", [[12.2,-6,16.5,-5.9,17,-7,20.5,-7.2,22,-9.7,22,-11,24,-11,22,-13,22,-16.2,23.4,-17.6,20.7,-18,14.1,-17.4,11.7,-17.3,13.7,-11,13,-9]]],
  ["Uganda", [[31,3.6,34,4.2,35,1.7,34,-1,30.5,-1,29.6,-1.4,30,1]]],
  ["Kenya", [[34,4.2,35.9,4.6,39.5,3.4,41,4,41,-1.7,39.2,-4.7,37.7,-3.5,34,-1,35,1.7]]],
  ["Rwanda", [[29.6,-1.4,30.5,-1,30.7,-2.4,29,-2.7]]],
  ["Burundi", [[29,-2.7,30.7,-2.4,29.3,-4.5]]],
  ["Ethiopia", [[36,12.7,36.5,14.3,38.5,14.5,41,14.5,43.2,12.5,42.8,11,44,9,47.9,8,45,5,42,4,41,4,39.5,3.4,35.9,4.6,35,8.5,34,9.5,35,10]]],
  ["Eritrea", [[36.5,14.3,38.5,18,43.2,12.5,41,14.5,38.5,14.5]]],
  ["Somalia", [[43.2,11.5,51,12,51,10.5,49,6,45,2,41,-1.7,41,4,42,4,45,5,47.9,8,44,9,42.8,11]]],
  ["Zambia", [[22,-11,24,-11,27,-11.7,30,-13,29,-11.5,28.7,-8.5,30.7,-8.3,33,-9.5,33,-11,32.5,-14,30.3,-15.6,28,-16,25.3,-17.8,23.4,-17.6,22,-16.2,22,-13]]],
  ["Malawi", [[33,-9.5,34.9,-11.5,34.5,-14,35.2,-14.5,35.2,-17,33.9,-14.5,33,-11]]],
  ["Mozambique", [[34.9,-11.5,37.5,-11.7,40.5,-10.6,40.7,-15,37,-18,34.9,-19.8,35.5,-24,32.9,-26,32.9,-26.8,32,-26,31.3,-22.4,32.5,-21,33,-19,30.3,-15.6,32.5,-14,33.9,-14.5,35.2,-17,35.2,-14.5,34.5,-14]]],
  ["Zimbabwe", [[25.3,-17.8,28,-16,30.3,-15.6,33,-19,32.5,-21,31.3,-22.4,29.4,-22.2,27,-20.5]]],
  ["Botswana", [[20,-22,20.9,-18.3,23.4,-18.4,25.3,-17.8,27,-20.5,29.4,-22.2,26.8,-24.7,25.5,-25.7,23,-25.3,21,-26.8,20,-24.7]]],
  ["Madagascar", [[49.3,-12,50.4,-15.5,49,-18,47,-24.8,45,-25.6,43.5,-23.5,44.3,-20,44,-17,46,-15.7,48,-13.5]]]
];

// Drawn last, on top of the land: lakes in the background colour, Eswatini in grey
const lakes = [
  [-125,65,-118,66.5,-118,66,-123,64.8],
  [-117,61,-113,60.9,-109.5,62.8,-112,62.5,-115,62],
  [-99,50.5,-96.5,50.5,-97.5,54,-99,53],
  [-92,46.7,-88,48.5,-85,47.9,-84.7,46.5,-87,46.5],
  [-87.8,42,-86.5,42,-86,45,-85,46,-87.5,45.5],
  [-84.5,46,-81,46,-80,44.6,-81.7,43,-82.5,43.2,-83.5,44.5],
  [-83.3,41.6,-79,42.7,-79,42.9,-83,42.1],
  [-79.7,43.3,-76.3,43.5,-76.3,44.1,-79,43.9],
  [31.7,-0.2,33.9,0.2,34,-1,33.5,-2.5,32,-2.5],
  [59,46.5,61.5,46.3,60,44,58.5,44],
  [74,46,79,46.8,78.5,45.8,74.5,45.2]
];
const eswatini = [[31,-26,32,-26,32,-27,31.2,-27.3]];

const legendLabels = ["Citizenship at birth", "Additional conditions apply", "No comparable law/no data"];
const legendMarks = ["*", "**", ""];
const titleLines = ["Which Countries Have", "Birthright Citizenship?"];

const GREEN = "#0b6b5f", BLUE = "#60a8f8", GREY = "#c5d2da", BG = "#f4f7fb", NAVY = "#132c48", SLATE = "#465b73";

const svg = d3.select("body").append("svg").attr("width", 1200).attr("height", 1200);
svg.append("rect").attr("width", 1200).attr("height", 1200).attr("fill", BG);

const defs = svg.append("defs");
const fade = defs.append("linearGradient").attr("id", "fade").attr("x1", 0).attr("x2", 0).attr("y1", 0).attr("y2", 1);
fade.append("stop").attr("offset", 0).attr("stop-color", BG).attr("stop-opacity", 0);
fade.append("stop").attr("offset", 1).attr("stop-color", BG).attr("stop-opacity", 1);
const shadow = defs.append("filter").attr("id", "shadow").attr("x", "-20%").attr("y", "-30%").attr("width", "140%").attr("height", "160%");
shadow.append("feDropShadow").attr("dx", 0).attr("dy", 3).attr("stdDeviation", 10).attr("flood-color", "#1b3350").attr("flood-opacity", 0.28);

// The map's stretched Miller projection: x is linear in longitude, y in the Miller latitude
const x = d3.scaleLinear().domain([0, 180]).range([530.7, 1161.6]);
const miller = lat => 1.25 * Math.log(Math.tan(Math.PI / 4 + 0.4 * lat * Math.PI / 180));
const y = d3.scaleLinear().domain([0, 1]).range([701.6, 478.6]);
const path = d3.geoPath(d3.geoTransform({
  point(lon, lat) { this.stream.point(x(lon), y(miller(lat))); }
}));

function ring(flat) {
  const pts = d3.range(0, flat.length, 2).map(i => [flat[i], flat[i + 1]]);
  pts.push(pts[0]);
  return pts;
}
const toShape = rings => ({ type: "MultiPolygon", coordinates: rings.map(r => [ring(r)]) });

const map = svg.append("g");
function drawCountries(list, colour) {
  map.append("g").selectAll("path").data(list).join("path")
    .attr("d", d => path(toShape(d[1])))
    .attr("fill", colour)
    .attr("stroke", "#f4f7fb")
    .attr("stroke-width", 0.7)
    .attr("stroke-linejoin", "round")
    .append("title").text(d => d[0]);
}
drawCountries(noComparableLaw, GREY);
drawCountries(citizenshipAtBirth, GREEN);
drawCountries(additionalConditions, BLUE);
map.append("path").attr("d", path(toShape(eswatini))).attr("fill", GREY).attr("stroke", BG).attr("stroke-width", 0.7);
map.append("path").attr("d", path(toShape(citizenshipAtBirth.find(d => d[0] === "Lesotho")[1]))).attr("fill", GREEN).attr("stroke", BG).attr("stroke-width", 0.7);
map.append("path").attr("d", path(toShape(lakes))).attr("fill", BG);

// The south tip of Chile fades out above the footnotes
svg.append("rect").attr("x", 230).attr("y", 922).attr("width", 110).attr("height", 24).attr("fill", "url(#fade)");

// Title
svg.append("rect").attr("x", 36).attr("y", 73).attr("width", 28).attr("height", 130).attr("fill", GREEN);
svg.selectAll("text.title").data(titleLines).join("text")
  .attr("class", "title")
  .attr("x", 80)
  .attr("y", (d, i) => 124 + i * 79)
  .attr("font-size", 68)
  .attr("font-weight", 700)
  .attr("fill", NAVY)
  .text(d => d);

// Legend
svg.append("rect").attr("x", 779).attr("y", 279).attr("width", 460).attr("height", 148).attr("rx", 14)
  .attr("fill", "#fff").attr("filter", "url(#shadow)");
const legendColours = [GREEN, BLUE, GREY];
const rows = svg.append("g").selectAll("g").data(legendLabels).join("g")
  .attr("transform", (d, i) => `translate(797,${304 + i * 38.5})`);
rows.append("rect").attr("width", 19).attr("height", 19).attr("fill", (d, i) => legendColours[i]);
const rowText = rows.append("text").attr("x", 29).attr("y", 18).attr("font-size", 24.7).attr("fill", NAVY);
rowText.append("tspan").text(d => d);
rowText.append("tspan").attr("font-size", 15).attr("dy", -9).text((d, i) => legendMarks[i]);

// Footnotes
const notes = [
  [36, 964, "*"], [69, 964, "Some rare exceptions may apply, e.g. children of foreign service workers"],
  [36, 994, "**"], [71, 994, "E.g. child becomes a citizen if foreign parents were born"],
  [73, 1024, "in the country/have lived there for specified time"],
  [36, 1062, "Source: Statista research"]
];
svg.append("g").selectAll("text").data(notes).join("text")
  .attr("x", d => d[0]).attr("y", d => d[1])
  .attr("font-size", 24.7).attr("fill", SLATE).text(d => d[2]);

// Licence badges
const badges = svg.append("g").attr("fill", GREY);
[65, 137, 209].forEach(cx => {
  badges.append("circle").attr("cx", cx).attr("cy", 1135).attr("r", 26.5)
    .attr("fill", "none").attr("stroke", GREY).attr("stroke-width", 5.5);
});
badges.append("text").attr("x", 65).attr("y", 1146).attr("text-anchor", "middle")
  .attr("font-size", 33).attr("font-weight", 800).attr("letter-spacing", -1.5).text("cc");
badges.append("circle").attr("cx", 137).attr("cy", 1119.5).attr("r", 4);
badges.append("path").attr("d", "M129,1126h16v17h-4v11h-8v-11h-4z");
badges.append("rect").attr("x", 199).attr("y", 1128).attr("width", 22).attr("height", 5.5);
badges.append("rect").attr("x", 199).attr("y", 1138).attr("width", 22).attr("height", 5.5);

// Statista wordmark
svg.append("text").attr("x", 864).attr("y", 1164)
  .attr("font-family", "'Liberation Sans Narrow', sans-serif")
  .attr("font-size", 79).attr("font-weight", 700).attr("fill", NAVY)
  .attr("textLength", 225).attr("lengthAdjust", "spacingAndGlyphs").text("statista");
svg.append("path").attr("fill", NAVY).attr("d", "M1105,1106H1163Q1164,1106,1164,1107V1112C1125,1112,1140,1145,1105,1145Z");
svg.append("path").attr("fill", NAVY).attr("d", "M1164,1125V1163Q1164,1164,1163,1164H1105V1157C1145,1157,1125,1125,1164,1125Z");
</script>
</body>
</html>
